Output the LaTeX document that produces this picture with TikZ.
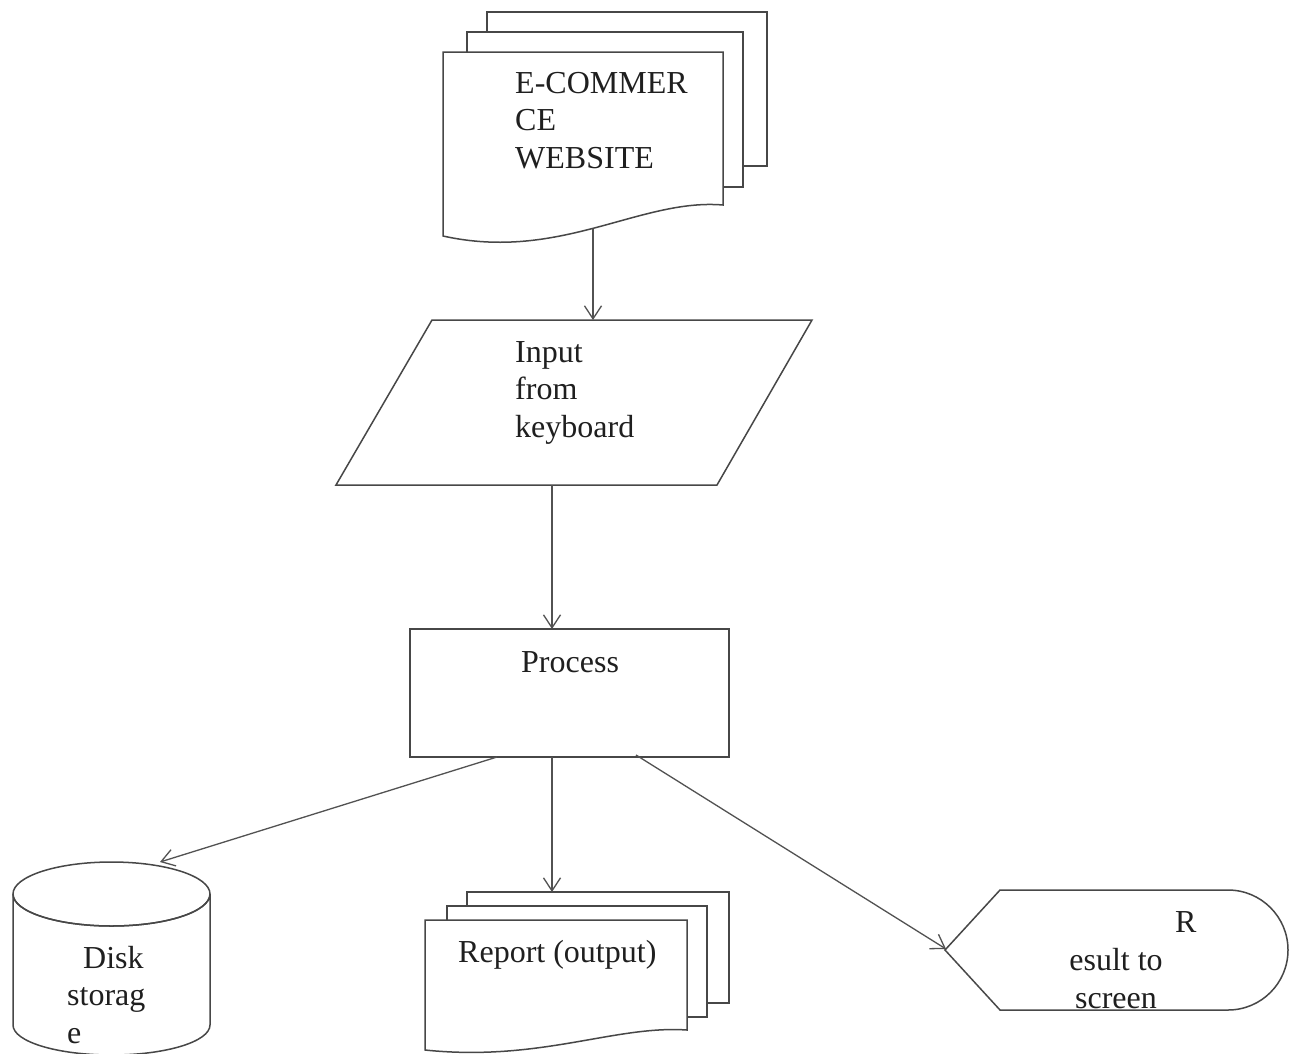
\documentclass[tikz,border=0pt]{standalone}
\usepackage{fontspec}
\setmainfont{Liberation Serif}
\usetikzlibrary{arrows.meta}
\begin{document}
\begin{tikzpicture}[x=1pt,y=-1pt,
  shapeline/.style={draw=black!72, line width=1.5pt, fill=white, line join=miter},
  conn/.style={draw=black!68, line width=1.3pt, -{Straight Barb[length=13pt,width=17pt,line width=1.3pt]}},
  lbl/.style={anchor=base west, inner sep=0pt, align=left, text=black!88,
    font=\fontsize{32}{37.5}\selectfont}]
\useasboundingbox[fill=white] (0,0) rectangle (1298,1053);

% ---- multi-document: web site ----
\path[shapeline] (487,12) rectangle (767,166);
\path[shapeline] (467,32) rectangle (743,187);
\path[shapeline] (443,236) -- (443,52) -- (723,52) -- (723,205)
  .. controls (640,198) and (560,262) .. (443,236) -- cycle;
% multi-line labels are placed by the baseline of their last line
\node[lbl] (web) at (515,168) {E-COMMER\\CE\\WEBSITE};

% ---- input parallelogram ----
\path[shapeline] (432,320) -- (812,320) -- (717,485) -- (336,485) -- cycle;
\node[lbl] (input) at (515,437) {Input\\from\\keyboard};

% ---- process box ----
\path[shapeline] (410,629) rectangle (729,757);
\node[lbl] (process) at (521,672) {Process};

% ---- disk storage cylinder ----
\path[shapeline] (13,894) -- (13,1025) arc[start angle=180, end angle=0, x radius=98.5, y radius=30]
  -- (210,894) arc[start angle=0, end angle=180, x radius=98.5, y radius=32];
\draw[shapeline, fill=none] (111.5,894) ellipse[x radius=98.5, y radius=32];
\node[lbl] (disk) at (67,1043) {\hspace*{16pt}Disk\\storag\\e};

% ---- multi-document: report ----
\path[shapeline] (467,892) rectangle (729,1003);
\path[shapeline] (447,906) rectangle (707,1017);
\path[shapeline] (425,1050) -- (425,920) -- (687,920) -- (687,1030)
  .. controls (615,1025) and (540,1062) .. (425,1050) -- cycle;
\node[lbl] (report) at (458,962) {Report (output)};

% ---- display: result to screen ----
\path[shapeline] (945,950) -- (1000,890) -- (1228,890)
  arc[start angle=-90, end angle=90, radius=60] -- (1000,1010) -- cycle;
\node[lbl] (resR) at (1175,932) {R};
\node[lbl, anchor=base, align=center] (result) at (1116,1008) {esult to\\screen};

% ---- connector end points ----
\coordinate (webOut) at (593,229);
\coordinate (inputIn) at (593,320);
\coordinate (inputOut) at (552,485);
\coordinate (procIn) at (552,629);
\coordinate (procOutL) at (497,757);
\coordinate (procOutM) at (552,757);
\coordinate (procOutR) at (636,755);
\coordinate (diskIn) at (160,862);
\coordinate (reportIn) at (552,892);
\coordinate (resultIn) at (946,949);

\draw[conn] (webOut) -- (inputIn);
\draw[conn] (inputOut) -- (procIn);
\draw[conn] (procOutL) -- (diskIn);
\draw[conn] (procOutM) -- (reportIn);
\draw[conn] (procOutR) -- (resultIn);
\end{tikzpicture}
\end{document}
